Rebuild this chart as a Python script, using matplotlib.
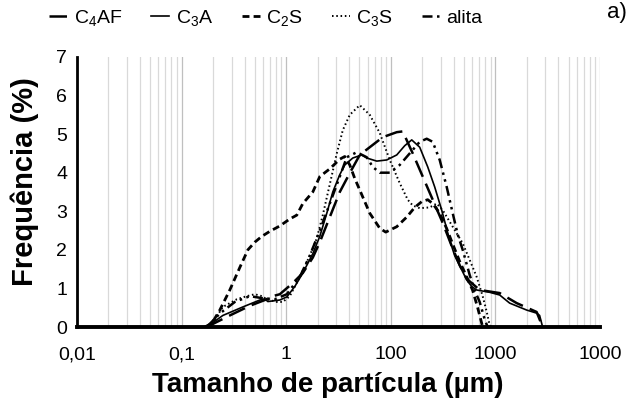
import numpy as np
import matplotlib
matplotlib.use('Agg')
import matplotlib.pyplot as plt
from matplotlib.ticker import FixedLocator, LogLocator, NullFormatter

plt.rcParams['font.family'] = ['Liberation Sans', 'DejaVu Sans']
plt.rcParams['mathtext.default'] = 'regular'

# particle size (um) and frequency (%) for each phase
c4af_x = [0.174, 0.289, 0.449, 0.625, 0.745, 0.869, 1.156, 1.441, 1.795, 2.094, 2.609,
          3.251, 4.050, 5.047, 6.287, 8.368, 11.39, 12.99, 16.19, 20.17, 25.13, 31.31,
          38.17, 45.50, 53.08, 70.67, 109.7, 159.4, 247.5, 282.4]
c4af_y = [0.0, 0.3, 0.55, 0.7, 0.8, 0.85, 1.14, 1.4, 1.8, 2.2, 2.85,
          3.5, 3.99, 4.46, 4.66, 4.92, 5.05, 5.07, 4.5, 3.9, 3.3, 2.7,
          2.1, 1.6, 1.25, 0.96, 0.88, 0.62, 0.39, 0.0]

c3a_x = [0.174, 0.248, 0.385, 0.560, 0.625, 0.667, 0.869, 1.013, 1.208, 1.441, 1.795,
         2.094, 2.443, 2.787, 3.251, 3.628, 4.326, 5.274, 5.887, 7.335, 9.137, 11.39,
         13.58, 15.84, 18.88, 22.52, 26.26, 30.63, 36.52, 40.77, 53.08, 59.24, 66.11,
         88.0, 109.7, 136.6, 198.6, 247.5, 264.3, 282.4]
c3a_y = [0.0, 0.3, 0.52, 0.7, 0.73, 0.66, 0.7, 0.78, 1.05, 1.4, 1.9,
         2.35, 2.95, 3.5, 3.95, 4.2, 4.38, 4.46, 4.38, 4.3, 4.33, 4.46,
         4.7, 4.85, 4.66, 4.15, 3.63, 3.03, 2.25, 1.85, 1.22, 1.05, 0.96,
         0.9, 0.83, 0.62, 0.44, 0.36, 0.3, 0.0]

c2s_x = [0.167, 0.195, 0.232, 0.289, 0.361, 0.430, 0.501, 0.585, 0.697, 0.869, 1.082,
         1.262, 1.441, 1.795, 2.094, 2.609, 3.251, 3.628, 4.050, 4.521, 5.047, 6.287,
         7.834, 8.938, 11.39, 14.19, 16.92, 19.73, 22.52, 25.13, 29.31, 34.20, 39.02,
         45.50, 53.08, 60.55, 67.61, 75.46]
c2s_y = [0.0, 0.1, 0.44, 0.96, 1.55, 2.0, 2.2, 2.35, 2.48, 2.62, 2.8,
         2.9, 3.2, 3.5, 3.9, 4.1, 4.35, 4.42, 4.2, 3.85, 3.55, 2.95,
         2.56, 2.46, 2.6, 2.85, 3.1, 3.25, 3.3, 3.2, 2.95, 2.55, 2.15,
         1.7, 1.3, 0.95, 0.5, 0.0]

c3s_x = [0.186, 0.208, 0.248, 0.3375, 0.4205, 0.501, 0.585, 0.6527, 0.8133, 0.928, 1.082,
         1.349, 1.680, 1.961, 2.237, 2.609, 3.044, 3.472, 4.050, 5.047, 6.287, 7.834,
         9.761, 12.16, 14.50, 16.19, 18.88, 23.53, 27.44, 31.31, 39.02, 48.62, 56.69,
         66.11, 75.46, 82.4, 88.0, 91.97]
c3s_y = [0.0, 0.2, 0.52, 0.72, 0.8, 0.85, 0.8, 0.72, 0.65, 0.65, 0.8,
         1.3, 1.85, 2.3, 2.9, 3.7, 4.5, 5.1, 5.5, 5.75, 5.5, 5.03,
         4.33, 3.73, 3.3, 3.15, 3.08, 3.1, 3.2, 3.03, 2.6, 2.17, 1.74,
         1.3, 0.8, 0.4, 0.05, 0.0]

alita_x = [0.174, 0.232, 0.3229, 0.4491, 0.5848, 0.7782, 1.013, 1.349, 1.680, 2.094, 2.609,
           3.251, 3.792, 4.724, 5.887, 6.715, 7.834, 9.761, 12.16, 15.15, 18.88, 22.03,
           25.13, 29.31, 34.20, 39.02, 43.55, 48.62, 56.69, 63.27, 70.67, 78.85, 84.2]
alita_y = [0.0, 0.35, 0.65, 0.8, 0.75, 0.72, 0.85, 1.3, 1.85, 2.5, 3.2,
           3.9, 4.4, 4.53, 4.4, 4.15, 4.0, 4.0, 4.2, 4.5, 4.8, 4.88,
           4.8, 4.33, 3.63, 2.95, 2.4, 2.0, 1.35, 0.95, 0.65, 0.2, 0.0]

xtick_pos = [0.01, 0.1, 1, 10, 100, 1000]
xtick_labels = ['0,01', '0,1', '1', '100', '1000', '1000']

fig = plt.figure(figsize=(6.33, 4.01), dpi=100)
ax = fig.add_axes([0.1216, 0.1845, 0.8264, 0.6735])

ax.plot(c4af_x, c4af_y, color='black', lw=1.8, linestyle=(0, (7, 3)), label='C$_4$AF')
ax.plot(c3a_x, c3a_y, color='black', lw=1.2, linestyle='-', label='C$_3$A')
ax.plot(c2s_x, c2s_y, color='black', lw=2.0, linestyle=(0, (2.5, 1.5)), label='C$_2$S')
ax.plot(c3s_x, c3s_y, color='black', lw=1.4, linestyle=(0, (0.8, 1.4)), label='C$_3$S')
ax.plot(alita_x, alita_y, color='black', lw=1.8, linestyle=(0, (4, 1.8, 1, 1.8, 1, 1.8)),
        label='alita')

ax.set_xscale('log')
ax.set_xlim(0.01, 1000)
ax.set_ylim(0, 7)
ax.set_yticks(range(0, 8))

ax.xaxis.set_major_locator(FixedLocator(xtick_pos))
ax.set_xticklabels(xtick_labels)
ax.xaxis.set_minor_locator(LogLocator(base=10, subs=np.arange(2, 10)))
ax.xaxis.set_minor_formatter(NullFormatter())

ax.grid(True, axis='x', which='major', color='#bfbfbf', lw=0.9)
ax.grid(True, axis='x', which='minor', color='#d9d9d9', lw=0.9)
ax.set_axisbelow(True)

ax.tick_params(axis='both', which='both', length=0, labelsize=14)
ax.tick_params(axis='x', pad=14)
ax.tick_params(axis='y', pad=7)
for side in ['top', 'right']:
    ax.spines[side].set_visible(False)
ax.spines['left'].set_linewidth(2.0)
ax.spines['bottom'].set_linewidth(2.8)

ax.set_xlabel('Tamanho de partícula (µm)', fontsize=20, fontweight='bold')
ax.set_ylabel('Frequência (%)', fontsize=21, fontweight='bold')
ax.xaxis.set_label_coords(0.48, -0.168)
ax.yaxis.set_label_coords(-0.073, 0.537)

fig.legend(loc='center', bbox_to_anchor=(0.42, 0.955), ncol=5, frameon=False,
           fontsize=14, handlelength=0.9, handletextpad=0.35, columnspacing=1.5,
           borderpad=0.2)
fig.text(0.99, 0.97, 'a)', fontsize=16, ha='right', va='center')

fig.savefig('out.png', dpi=100)
